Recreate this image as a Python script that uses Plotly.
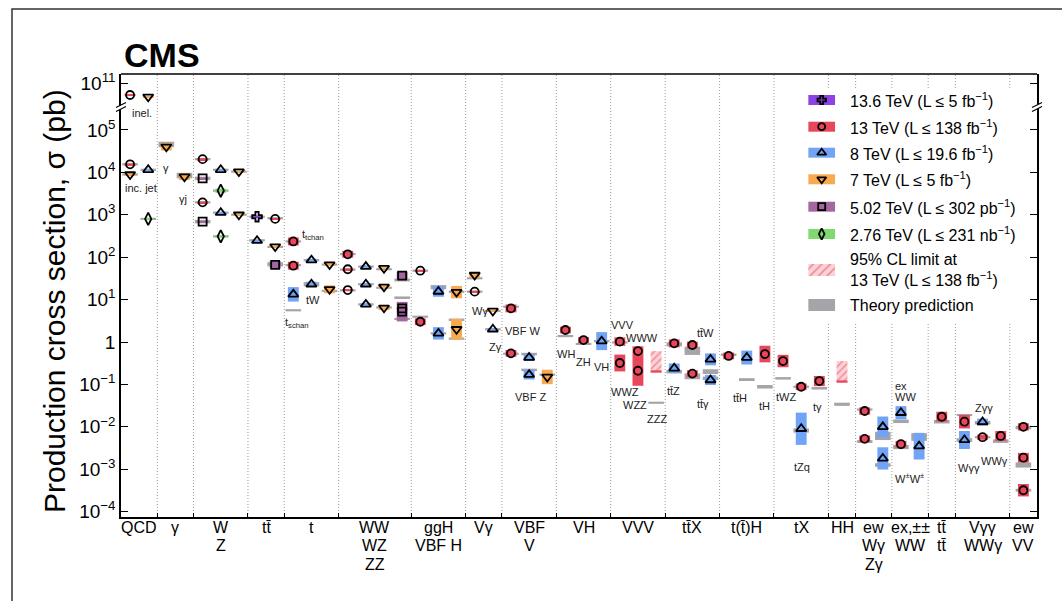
import plotly.graph_objects as go

# ---------------- data ----------------
separators = [2, 4, 7, 9, 12, 16, 19, 21, 24, 27, 30, 33, 36, 39, 40.5, 42.5, 44.5, 46, 49]
group_centers = [1, 3, 5.5, 8, 10.5, 14, 17.5, 20, 22.5, 25.5, 28.5, 31.5, 34.5, 37.5,
                 39.75, 41.5, 43.5, 45.25, 47.5, 49.75]
group_labels = [["QCD"], ["γ"], ["W", "Z"], ["tt\u0304"], ["t"], ["WW", "WZ", "ZZ"],
                ["ggH", "VBF H"], ["Vγ"], ["VBF", "V"], ["VH"], ["VVV"], ["tt\u0304X"],
                ["t(t\u0304)H"], ["tX"], ["HH"], ["ew", "Wγ", "Zγ"], ["ex,±±", "WW"],
                ["tt\u0304", "tt\u0304"], ["Vγγ", "WWγ"], ["ew", "VV"]]

meas_x = [0.5, 1.5, 0.5, 0.5, 1.5, 1.5,
          2.5, 3.5,
          4.5, 4.5, 5.5, 5.5, 6.5, 4.5, 4.5, 5.5, 5.5, 6.5,
          7.5, 8.5, 7.5, 8.5, 8.5,
          9.5, 9.5, 10.5, 11.5, 10.5, 11.5, 9.5,
          12.5, 12.5, 12.5, 13.5, 13.5, 13.5, 14.5, 14.5, 14.5, 15.5, 15.5, 15.5,
          16.5, 16.5, 17.5, 17.5, 18.5, 18.5,
          19.5, 19.5, 20.5, 20.5,
          21.5, 21.5, 22.5, 22.5, 23.5,
          24.5, 25.5, 26.5,
          27.5, 27.5, 28.5, 28.5,
          30.5, 31.5, 30.5, 31.5, 32.5, 32.5,
          33.5, 34.5, 35.5,
          36.5, 37.5, 37.5, 38.5,
          41, 41, 42, 42,
          43, 43, 44,
          45.25,
          46.5, 46.5, 47.5, 47.5, 48.5,
          49.75, 49.75, 49.75]
meas_energy = ["13", "7", "13", "7", "8", "2.76",
               "7", "7",
               "13", "5.02", "8", "2.76", "7", "13", "5.02", "8", "2.76", "7",
               "13.6", "13", "8", "7", "5.02",
               "13", "13", "8", "7", "8", "7", "8",
               "13", "13", "13", "8", "8", "8", "7", "7", "7", "5.02", "5.02", "5.02",
               "13", "13", "8", "8", "7", "7",
               "7", "13", "7", "8",
               "13", "13", "8", "8", "7",
               "13", "13", "8",
               "13", "13", "13", "13",
               "13", "13", "8", "13", "8", "8",
               "13", "8", "13",
               "13", "8", "13", "13",
               "13", "13", "8", "8",
               "8", "13", "8",
               "13",
               "13", "8", "8", "13", "13",
               "13", "13", "13"]
meas_xsec = [5.3e10, 4.8e10, 1.55e4, 8.9e3, 1.15e4, 800,
             4.0e4, 7.9e3,
             2.05e4, 7.2e3, 1.15e4, 3.7e3, 1.04e4, 1.96e3, 690, 1.12e3, 310, 1.0e3,
             900, 800, 245, 178, 66,
             235, 63, 85, 67, 23, 17.5, 13.3,
             117, 52, 16.8, 60, 23, 7.7, 55, 20, 6.4, 36.6, 6.2, 5.2,
             48, 3.0, 15.5, 1.6, 15, 2.0,
             38, 15.4, 5.4, 2.0,
             6.2, 0.54, 0.43, 0.17, 0.15,
             1.92, 1.11, 1.05,
             1.02, 0.32, 0.61, 0.21,
             0.93, 0.85, 0.24, 0.18, 0.39, 0.127,
             0.47, 0.43, 0.52,
             0.356, 0.009, 0.088, 0.12,
             0.0236, 0.0052, 0.010, 0.0018,
             0.0215, 0.0039, 0.0035,
             0.0173,
             0.0132, 0.0049, 0.0130, 0.0057, 0.0061,
             0.010, 0.00187, 0.00032]
# multiplicative size of the measurement box (box spans value/f .. value*f)
meas_err = [1.05, 1.05, 1.05, 1.05, 1.05, 1.05,
            1.22, 1.2,
            1.05, 1.05, 1.05, 1.12, 1.05, 1.05, 1.05, 1.05, 1.07, 1.05,
            1.05, 1.05, 1.05, 1.05, 1.22,
            1.24, 1.24, 1.08, 1.08, 1.15, 1.24, 1.48,
            1.2, 1.05, 1.05, 1.06, 1.06, 1.06, 1.06, 1.08, 1.12, 1.24, 1.05, 1.7,
            1.05, 1.2, 1.33, 1.4, 1.4, 1.75,
            1.17, 1.05, 1.06, 1.06,
            1.24, 1.2, 1.2, 1.3, 1.48,
            1.2, 1.18, 1.63,
            1.26, 1.58, 1.3, 2.26,
            1.24, 1.2, 1.3, 1.2, 1.38, 1.31,
            1.2, 1.46, 1.57,
            1.4, 2.4, 1.2, 1.32,
            1.22, 1.2, 1.75, 1.83,
            1.43, 1.2, 2.06,
            1.31,
            1.44, 1.63, 1.2, 1.15, 1.31,
            1.22, 1.3, 1.4]

th_x = [0.5, 0.5, 1.5, 1.5,
        2.5, 3.5,
        4.5, 4.5, 5.5, 5.5, 6.5, 4.5, 4.5, 5.5, 5.5, 6.5,
        7.5, 8.5, 7.5, 8.5, 8.5,
        9.5, 9.5, 10.5, 11.5, 10.5, 11.5, 9.5,
        12.5, 12.5, 12.5, 13.5, 13.5, 13.5, 14.5, 14.5, 14.5, 15.5, 15.5, 15.5,
        16.5, 16.5, 17.5, 17.5, 18.5, 18.5, 18.5,
        19.5, 19.5, 20.5, 20.5,
        21.5, 21.5, 22.5, 22.5, 23.5,
        24.5, 25.5, 26.5,
        27.5, 29.5,
        30.5, 31.5, 30.5, 31.5, 32.5, 32.5,
        33.5, 34.5, 35.5,
        36.5, 37.5, 37.5, 38.5,
        39.75,
        41, 41, 42, 42,
        43, 43, 44,
        45.25,
        46.5, 46.5, 47.5, 47.5, 48.5,
        49.75, 49.75, 49.75]
th_xsec = [1.55e4, 8.9e3, 1.15e4, 800,
           4.55e4, 8.4e3,
           2.05e4, 7.2e3, 1.15e4, 3.7e3, 1.04e4, 1.96e3, 690, 1.12e3, 310, 1.0e3,
           900, 830, 250, 175, 68,
           235, 65, 85, 67, 23, 16, 5.6,
           118, 51, 16.5, 60, 23, 7.7, 52, 19, 6.5, 29, 11.3, 3.5,
           48, 3.95, 19.6, 1.6, 15.3, 3.4, 1.2,
           31.8, 15.4, 5.4, 2.0,
           6.8, 0.53, 0.52, 0.22, 0.17,
           1.38, 0.9, 1.05,
           0.98, 0.037,
           0.88, 0.62, 0.20, 0.155, 0.20, 0.139,
           0.50, 0.13, 0.088,
           0.139, 0.0082, 0.088, 0.081,
           0.034,
           0.0256, 0.0045, 0.0061, 0.00126,
           0.0135, 0.00334, 0.00575,
           0.0132,
           0.019, 0.0049, 0.0125, 0.0057, 0.0046,
           0.0096, 0.00126, 0.00032]
th_err = [1.06, 1.06, 1.06, 1.06,
          1.16, 1.16,
          1.06, 1.1, 1.06, 1.06, 1.06, 1.06, 1.1, 1.06, 1.06, 1.06,
          1.06, 1.06, 1.06, 1.06, 1.12,
          1.06, 1.06, 1.06, 1.06, 1.12, 1.06, 1.06,
          1.06, 1.06, 1.06, 1.06, 1.06, 1.06, 1.06, 1.06, 1.06, 1.08, 1.05, 1.06,
          1.06, 1.06, 1.12, 1.06, 1.06, 1.05, 1.06,
          1.06, 1.06, 1.06, 1.06,
          1.06, 1.06, 1.07, 1.07, 1.06,
          1.06, 1.06, 1.06,
          1.06, 1.06,
          1.115, 1.25, 1.1, 1.17, 1.14, 1.1,
          1.07, 1.08, 1.1,
          1.07, 1.12, 1.06, 1.07,
          1.09,
          1.06, 1.08, 1.25, 1.1,
          1.1, 1.12, 1.23,
          1.1,
          1.05, 1.1, 1.1, 1.06, 1.1,
          1.1, 1.15, 1.08]

lim_x = [29.5, 39.75]
lim_lo = [0.19, 0.11]
lim_hi = [0.61, 0.356]

label_text = ["inel.", "inc. jet", "γ", "γj", "t<sub>tchan</sub>", "tW", "t<sub>schan</sub>",
              "Wγ", "Zγ", "VBF W", "VBF Z", "WH", "ZH", "VH", "VVV", "WWW", "WWZ", "WZZ", "ZZZ",
              "tt\u0304W", "tt\u0304Z", "tt\u0304γ", "tt\u0304H", "tH", "tWZ", "tγ", "tZq",
              "ex", "WW", "W<sup>±</sup>W<sup>±</sup>", "Wγγ", "Zγγ", "WWγ"]
label_x = [1.14, 1.12, 2.47, 3.42, 10.56, 10.6, 9.69,
           19.79, 20.67, 22.16, 22.55, 24.53, 25.49, 26.5, 27.67, 28.72, 27.78, 28.34, 29.55,
           32.22, 30.46, 32.11, 34.1, 35.5, 36.66, 38.41, 37.52,
           42.56, 42.56, 43.49, 46.73, 47.56, 48.18]
label_logy = [5.39, 3.62, 4.10, 3.37, 2.52, 0.99, 0.455,
              0.738, -0.125, 0.26, -1.29, -0.283, -0.465, -0.597, 0.40, 0.10, -1.19, -1.485, -1.82,
              0.205, -1.155, -1.47, -1.33, -1.50, -1.29, -1.525, -2.94,
              -1.037, -1.304, -3.2, -2.96, -1.56, -2.81]
label_anchor = ["center"] * 27 + ["left", "left"] + ["center"] * 4

energies = ["13.6", "13", "8", "7", "5.02", "2.76"]
legend_text = ["13.6 TeV (L ≤ 5 fb<sup>−1</sup>)", "13 TeV (L ≤ 138 fb<sup>−1</sup>)",
               "8 TeV (L ≤ 19.6 fb<sup>−1</sup>)", "7 TeV (L ≤ 5 fb<sup>−1</sup>)",
               "5.02 TeV (L ≤ 302 pb<sup>−1</sup>)", "2.76 TeV (L ≤ 231 nb<sup>−1</sup>)",
               "95% CL limit at<br>13 TeV (L ≤ 138 fb<sup>−1</sup>)", "Theory prediction"]

ytick_vals = [1e-4, 1e-3, 1e-2, 1e-1, 1, 10, 100, 1e3, 1e4, 1e5]
ytick_text = ["10<sup>−4</sup>", "10<sup>−3</sup>", "10<sup>−2</sup>", "10<sup>−1</sup>", "1",
              "10<sup>1</sup>", "10<sup>2</sup>", "10<sup>3</sup>", "10<sup>4</sup>", "10<sup>5</sup>"]

assert len(meas_x) == len(meas_energy) == len(meas_xsec) == len(meas_err)
assert len(th_x) == len(th_xsec) == len(th_err)
assert len(label_text) == len(label_x) == len(label_logy) == len(label_anchor)

# ---------------- style ----------------
FONT = "Liberation Sans, Arial, Helvetica, sans-serif"
colors = {"13.6": "#8c42e4", "13": "#e8475b", "8": "#71a3f6", "7": "#f7aa50",
          "5.02": "#a4679f", "2.76": "#80d96e"}
symbols = {"13.6": "cross-open", "13": "circle-open", "8": "triangle-up-open",
           "7": "triangle-down-open", "5.02": "square-open", "2.76": "diamond-tall-open"}
msize = {"13.6": 8, "13": 8, "8": 9, "7": 9, "5.02": 8, "2.76": 9}
GRAY = "#a4a4a9"
HATCH_BG = "#fbd2d7"
W, H = 1062, 601
PL, PR, PT, PB = 121, 1037, 74, 517
SPLIT = 0.9255


def fx(px):
    return (px - PL) / (PR - PL)


def fy(py):
    return (PB - py) / (PB - PT)


fig = go.Figure()

# theory boxes
fig.add_trace(go.Bar(x=th_x, base=[v / f for v, f in zip(th_xsec, th_err)],
                     y=[v * f - v / f for v, f in zip(th_xsec, th_err)],
                     width=0.86, marker=dict(color=GRAY, line=dict(width=0)),
                     xaxis="x", yaxis="y", hoverinfo="skip"))

# measurement boxes
for e in energies:
    for ax, cond in (("y", lambda v: v < 1e8), ("y2", lambda v: v >= 1e8)):
        idx = [i for i in range(len(meas_x)) if meas_energy[i] == e and cond(meas_xsec[i])]
        if not idx:
            continue
        fig.add_trace(go.Bar(x=[meas_x[i] for i in idx],
                             base=[meas_xsec[i] / meas_err[i] for i in idx],
                             y=[meas_xsec[i] * meas_err[i] - meas_xsec[i] / meas_err[i] for i in idx],
                             width=0.6, marker=dict(color=colors[e], line=dict(width=0)),
                             xaxis="x", yaxis=ax, hoverinfo="skip"))

# limits
fig.add_trace(go.Bar(x=lim_x, base=lim_lo, y=[h - l for l, h in zip(lim_lo, lim_hi)], width=0.6,
                     marker=dict(color=HATCH_BG, line=dict(width=0),
                                 pattern=dict(shape="/", fgcolor=colors["13"], bgcolor=HATCH_BG,
                                              size=5, solidity=0.3)),
                     xaxis="x", yaxis="y", hoverinfo="skip"))
fig.add_trace(go.Bar(x=lim_x, base=lim_lo, y=[l * 0.13 for l in lim_lo], width=0.6,
                     marker=dict(color=colors["13"], line=dict(width=0)),
                     xaxis="x", yaxis="y", hoverinfo="skip"))

# markers
for e in energies:
    for ax, cond in (("y", lambda v: v < 1e8), ("y2", lambda v: v >= 1e8)):
        idx = [i for i in range(len(meas_x)) if meas_energy[i] == e and cond(meas_xsec[i])]
        if not idx:
            continue
        fig.add_trace(go.Scatter(x=[meas_x[i] for i in idx], y=[meas_xsec[i] for i in idx],
                                 mode="markers", xaxis="x", yaxis=ax, hoverinfo="skip",
                                 marker=dict(symbol=symbols[e], size=msize[e], color="black",
                                             line=dict(width=1.8, color="black"))))

# ---------------- legend (drawn in a paper-like overlay subplot) ----------------
leg_row_py = [100, 126.7, 152.7, 179.3, 206.7, 234, 270, 305]
sw_cx, sw_w = fx(821.7), 26.7 / (PR - PL)
for k, e in enumerate(energies):
    py = leg_row_py[k]
    fig.add_trace(go.Bar(x=[sw_cx], base=[fy(py + 5)], y=[10 / (PB - PT)], width=sw_w,
                         marker=dict(color=colors[e], line=dict(width=0)),
                         xaxis="x2", yaxis="y3", hoverinfo="skip"))
    fig.add_trace(go.Scatter(x=[sw_cx], y=[fy(py)], mode="markers", xaxis="x2", yaxis="y3",
                             hoverinfo="skip",
                             marker=dict(symbol=symbols[e], size=msize[e] - 1, color="black",
                                         line=dict(width=1.8, color="black"))))
fig.add_trace(go.Bar(x=[sw_cx], base=[fy(leg_row_py[6] + 6)], y=[12 / (PB - PT)], width=sw_w,
                     marker=dict(color=HATCH_BG, line=dict(width=0),
                                 pattern=dict(shape="/", fgcolor=colors["13"], bgcolor=HATCH_BG,
                                              size=6, solidity=0.3)),
                     xaxis="x2", yaxis="y3", hoverinfo="skip"))
fig.add_trace(go.Bar(x=[sw_cx], base=[fy(leg_row_py[7] + 6)], y=[12 / (PB - PT)], width=sw_w,
                     marker=dict(color=GRAY, line=dict(width=0)),
                     xaxis="x2", yaxis="y3", hoverinfo="skip"))

annotations = []
for k, t in enumerate(legend_text):
    annotations.append(dict(x=fx(848), y=fy(leg_row_py[k]), xref="paper", yref="paper",
                            text=t, showarrow=False, xanchor="left", yanchor="middle",
                            align="left", font=dict(size=16, family=FONT, color="black")))

# process labels inside the plot
for t, x, ly, a in zip(label_text, label_x, label_logy, label_anchor):
    annotations.append(dict(x=x, y=ly, xref="x", yref="y", text=t, showarrow=False,
                            xanchor=a, yanchor="middle",
                            font=dict(size=11, family=FONT, color="#222")))

# group labels under the axis
for c, lines in zip(group_centers, group_labels):
    for j, t in enumerate(lines):
        annotations.append(dict(x=c, y=fy(527 + 18.6 * j), xref="x", yref="paper", text=t,
                                showarrow=False, xanchor="center", yanchor="middle",
                                font=dict(size=16, family=FONT, color="black")))

annotations.append(dict(x=fx(122), y=fy(55), xref="paper", yref="paper", text="<b>CMS</b>",
                        showarrow=False, xanchor="left", yanchor="middle",
                        font=dict(size=34, family=FONT, color="black")))
annotations.append(dict(x=fx(54), y=fy(301), xref="paper", yref="paper",
                        text="Production cross section, σ (pb)", textangle=-90, showarrow=False,
                        xanchor="center", yanchor="middle",
                        font=dict(size=30, family=FONT, color="black")))

# ---------------- shapes ----------------
shapes = []
for s in separators:
    shapes.append(dict(type="line", xref="x", yref="paper", x0=s, x1=s, y0=0, y1=1,
                       line=dict(color="#9c9c9c", width=1, dash="1px,2px"), layer="below"))
shapes.append(dict(type="rect", xref="paper", yref="paper", x0=fx(798), x1=fx(1035.5),
                   y0=fy(323), y1=fy(89), fillcolor="white", line=dict(width=0), layer="below"))
shapes.append(dict(type="line", xref="paper", yref="paper", x0=0, x1=1, y0=1, y1=1,
                   line=dict(color="black", width=1.5), layer="above"))
shapes.append(dict(type="rect", xref="paper", yref="paper", x0=fx(12), x1=fx(1080),
                   y0=fy(640), y1=fy(9), line=dict(color="#333", width=1.5), layer="below"))
# axis-break marks
for cx in (PL, PR):
    cy = 107
    pts = [(cx - 5, cy - 2 + 2.5), (cx + 5, cy - 2 - 2.5), (cx + 5, cy + 2 - 2.5), (cx - 5, cy + 2 + 2.5)]
    path = "M " + " L ".join(f"{fx(a):.5f},{fy(b):.5f}" for a, b in pts) + " Z"
    shapes.append(dict(type="path", xref="paper", yref="paper", path=path,
                       fillcolor="white", line=dict(width=0), layer="above"))
    for dy in (-2, 2):
        shapes.append(dict(type="line", xref="paper", yref="paper",
                           x0=fx(cx - 5), y0=fy(cy + dy + 2.5), x1=fx(cx + 5), y1=fy(cy + dy - 2.5),
                           line=dict(color="black", width=1.2), layer="above"))

axis_common = dict(showline=True, linecolor="black", linewidth=1.5, mirror="ticks",
                   ticks="inside", ticklen=7, tickwidth=1.2, tickcolor="black",
                   showgrid=False, zeroline=False, tickfont=dict(size=19, family=FONT, color="black"))

fig.update_layout(
    width=W, height=H, margin=dict(l=PL, r=W - PR, t=PT, b=H - PB, pad=0),
    paper_bgcolor="white", plot_bgcolor="rgba(0,0,0,0)",
    barmode="overlay", showlegend=False,
    font=dict(family=FONT, color="black"),
    xaxis=dict(range=[0, 50.5], domain=[0, 1], anchor="y", showline=True, linecolor="black",
               linewidth=1.5, ticks="inside", ticklen=4, tickcolor="black", tickvals=separators,
               showticklabels=False, showgrid=False, zeroline=False, fixedrange=True),
    yaxis=dict(type="log", range=[-4.126, 5.541], domain=[0, SPLIT], anchor="x",
               tickvals=ytick_vals, ticktext=ytick_text, **axis_common),
    yaxis2=dict(type="log", range=[10.441, 11.219], domain=[SPLIT, 1], anchor="x",
                tickvals=[1e11], ticktext=["10<sup>11</sup>"], **axis_common),
    xaxis2=dict(domain=[0, 1], range=[0, 1], anchor="y3", visible=False, fixedrange=True),
    yaxis3=dict(domain=[0, 1], range=[0, 1], anchor="x2", visible=False, fixedrange=True),
    annotations=annotations, shapes=shapes,
)

fig.write_html("out.html", config={"displayModeBar": False},
               post_script="document.body.style.margin='0px';document.body.style.padding='0px';")
